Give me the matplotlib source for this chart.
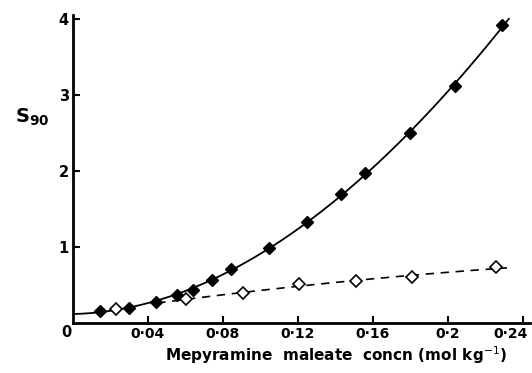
import numpy as np
import matplotlib
matplotlib.use('Agg')
import matplotlib.pyplot as plt
import matplotlib.transforms as mtransforms

# filled diamonds
conc_filled = [0.0144, 0.0299, 0.0443, 0.0555, 0.0641, 0.0741, 0.0843,
               0.1048, 0.1248, 0.1430, 0.1560, 0.1800, 0.2040, 0.2290]
s90_filled = [0.16, 0.20, 0.28, 0.37, 0.44, 0.57, 0.71,
              0.98, 1.33, 1.70, 1.97, 2.50, 3.11, 3.92]

# open diamonds
conc_open = [0.0228, 0.0603, 0.0908, 0.1205, 0.1510, 0.1810, 0.2254]
s90_open = [0.18, 0.32, 0.40, 0.51, 0.55, 0.60, 0.73]

x_ticks = [0.04, 0.08, 0.12, 0.16, 0.2, 0.24]
x_labels = ['0·04', '0·08', '0·12', '0·16', '0·2', '0·24']
y_ticks = [1, 2, 3, 4]
y_labels = ['1', '2', '3', '4']

plt.rcParams['font.family'] = ['DejaVu Sans']

fig = plt.figure(figsize=(5.32, 3.73), dpi=100)
ax = fig.add_axes([0.137, 0.134, 0.859, 0.826])

# smooth curves through the points
c1 = np.polyfit(conc_filled, s90_filled, 3)
xs1 = np.linspace(0, 0.2325, 200)
ax.plot(xs1, np.polyval(c1, xs1), color='black', lw=1.3)

c2 = np.polyfit(conc_open, s90_open, 2)
xs2 = np.linspace(0.045, 0.2315, 200)
ax.plot(xs2, np.polyval(c2, xs2), color='black', lw=1.2, ls=(0, (5, 4)))

ax.plot(conc_filled, s90_filled, 'D', color='black', ms=6, zorder=3)
ax.plot(conc_open, s90_open, 'D', mfc='white', mec='black', mew=1.2, ms=6, zorder=3)

ax.set_xlim(0, 0.2437)
ax.set_ylim(0, 4.05)
for s in ['top', 'right']:
    ax.spines[s].set_visible(False)
for s in ['left', 'bottom']:
    ax.spines[s].set_linewidth(2)

ax.set_xticks(x_ticks)
ax.set_xticklabels(x_labels, fontsize=10, fontweight='bold')
ax.set_yticks(y_ticks)
ax.set_yticklabels(y_labels, fontsize=10.5, fontweight='bold')
ax.tick_params(direction='in', length=5, width=1.5, pad=3)

# nudge the last x label so it stays inside the figure
last = ax.get_xticklabels()[-1]
last.set_transform(last.get_transform() +
                   mtransforms.ScaledTranslation(-9 / 72, 0, fig.dpi_scale_trans))

ax.annotate('0', xy=(0, 0), xytext=(-5, -7), textcoords='offset points',
            ha='center', va='center', fontsize=10.5, fontweight='bold')

fig.text(0.632, 0.048, 'Mepyramine  maleate  concn (mol kg$^{-1}$)', fontsize=11,
         fontweight='bold', ha='center', va='center')
fig.text(0.028, 0.685, r'S$_{\mathbf{90}}$', fontsize=14, fontweight='bold',
         ha='left', va='center')

fig.savefig('out.png', dpi=100)
